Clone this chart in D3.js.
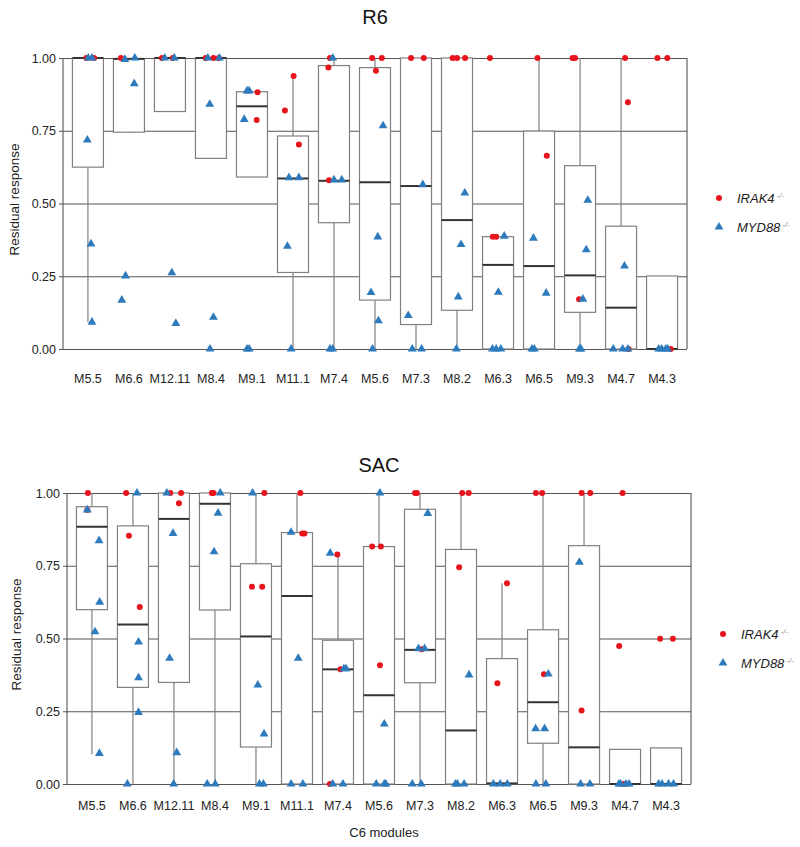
<!DOCTYPE html>
<html>
<head>
<meta charset="utf-8">
<script src="https://cdn.jsdelivr.net/npm/d3@7"></script>
<style>
  body { margin: 0; background: #fff; }
  svg { font-family: "Liberation Sans", Arial, sans-serif; }
</style>
</head>
<body>
<svg id="chart" width="800" height="847"></svg>
<script>
// ---------------- DATA ----------------
const categories = ["M5.5","M6.6","M12.11","M8.4","M9.1","M11.1","M7.4","M5.6","M7.3","M8.2","M6.3","M6.5","M9.3","M4.7","M4.3"];
const yTicks = [0, 0.25, 0.5, 0.75, 1.0];
const seriesNames = ["IRAK4", "MYD88"];

// box stats per category: [lower whisker, q1, median, q3, upper whisker]
const r6Boxes = [
  [0.092,0.625,1.0,1.0,1.0],
  [0.745,0.745,0.997,0.997,0.997],
  [0.816,0.816,1.0,1.0,1.0],
  [0.655,0.655,1.0,1.0,1.0],
  [0.591,0.591,0.834,0.884,0.884],
  [0.0,0.263,0.586,0.732,0.938],
  [0.0,0.434,0.578,0.974,1.0],
  [0.0,0.168,0.573,0.967,1.0],
  [0.0,0.084,0.560,1.0,1.0],
  [0.0,0.133,0.443,1.0,1.0],
  [0.0,0.0,0.289,0.386,0.386],
  [0.0,0.0,0.285,0.749,1.0],
  [0.0,0.126,0.253,0.630,1.0],
  [0.0,0.0,0.142,0.422,1.0],
  [0.0,0.0,0.0,0.251,0.251]
];
// points per category: [value, jitter (fraction of box width)]
const r6Irak4 = [
  [[1.0,-0.05],[1.0,0.20]],
  [[1.0,-0.26]],
  [[1.0,-0.26],[1.0,0.09]],
  [[1.0,-0.17],[1.0,0.08],[1.0,0.25]],
  [[0.882,0.18],[0.787,0.15]],
  [[0.938,0.02],[0.820,-0.26],[0.703,0.19]],
  [[1.0,-0.13],[0.967,-0.18],[0.580,-0.16]],
  [[1.0,-0.09],[1.0,0.22],[0.956,0.03]],
  [[1.0,-0.16],[1.0,0.25]],
  [[1.0,-0.14],[1.0,0.0],[1.0,0.26]],
  [[1.0,-0.26],[0.386,-0.17],[0.386,-0.06]],
  [[1.0,-0.05],[0.664,0.25]],
  [[1.0,-0.24],[1.0,-0.16],[0.171,-0.03]],
  [[1.0,0.13],[0.848,0.22],[0.0,0.24]],
  [[1.0,-0.15],[1.0,0.17],[0.0,0.28]]
];
const r6Myd88 = [
  [[1.0,0.01],[1.0,0.13],[0.718,-0.02],[0.361,0.10],[0.092,0.13]],
  [[0.995,-0.13],[1.0,0.19],[0.912,0.17],[0.251,-0.11],[0.168,-0.23]],
  [[1.0,-0.17],[1.0,0.14],[0.262,0.06],[0.088,0.19]],
  [[1.0,-0.10],[1.0,0.27],[0.841,-0.04],[0.109,0.08],[0.0,-0.03]],
  [[0.887,-0.16],[0.887,-0.09],[0.789,-0.25],[0.0,-0.16],[0.0,-0.09]],
  [[0.589,-0.13],[0.589,0.19],[0.353,-0.18],[0.0,-0.06]],
  [[1.0,-0.04],[0.581,0.0],[0.581,0.25],[0.0,-0.13],[0.0,-0.04]],
  [[0.767,0.26],[0.385,0.09],[0.194,-0.13],[0.097,0.11],[0.0,-0.08]],
  [[0.565,0.22],[0.115,-0.25],[0.0,-0.12],[0.0,0.18]],
  [[0.536,0.25],[0.359,0.13],[0.179,0.04],[0.0,-0.02]],
  [[0.388,0.20],[0.195,0.01],[0.0,-0.18],[0.0,-0.06],[0.0,0.09]],
  [[0.381,-0.18],[0.192,0.23],[0.0,-0.23],[0.0,-0.15]],
  [[0.171,0.09],[0.511,0.25],[0.341,0.20],[0.0,-0.02],[0.0,0.03]],
  [[0.285,0.11],[0.0,-0.25],[0.0,0.05],[0.0,0.22]],
  [[0.0,-0.11],[0.0,-0.01],[0.0,0.12],[0.0,0.18]]
];

const sacBoxes = [
  [0.102,0.599,0.884,0.953,1.0],
  [0.0,0.332,0.548,0.887,1.0],
  [0.0,0.349,0.911,1.0,1.0],
  [0.0,0.598,0.963,1.0,1.0],
  [0.0,0.127,0.507,0.757,1.0],
  [0.0,0.0,0.646,0.864,1.0],
  [0.0,0.0,0.394,0.494,0.789],
  [0.0,0.0,0.305,0.816,1.0],
  [0.0,0.348,0.461,0.944,1.0],
  [0.0,0.0,0.184,0.806,1.0],
  [0.0,0.0,0.002,0.431,0.690],
  [0.0,0.140,0.281,0.530,1.0],
  [0.0,0.0,0.126,0.819,1.0],
  [0.0,0.0,0.0,0.119,0.119],
  [0.0,0.0,0.0,0.124,0.124]
];
const sacIrak4 = [
  [[1.0,-0.13],[0.942,-0.15]],
  [[1.0,-0.22],[0.853,-0.13],[0.608,0.22]],
  [[1.0,-0.12],[1.0,0.23],[0.965,0.16]],
  [[1.0,-0.10],[1.0,-0.05]],
  [[1.0,0.27],[0.678,-0.13],[0.678,0.20]],
  [[1.0,0.11],[0.861,0.17],[0.861,0.24]],
  [[0.789,-0.02],[0.394,0.08],[0.0,-0.26]],
  [[0.816,-0.22],[0.816,0.06],[0.408,0.03]],
  [[1.0,-0.16],[1.0,-0.10],[0.463,0.05]],
  [[1.0,0.04],[1.0,0.25],[0.745,-0.06]],
  [[0.690,0.16],[0.346,-0.15]],
  [[1.0,-0.23],[1.0,-0.03],[0.377,0.03]],
  [[1.0,-0.08],[1.0,0.20],[0.253,-0.08]],
  [[1.0,-0.08],[0.474,-0.19],[0.0,-0.03]],
  [[0.499,-0.19],[0.499,0.22]]
];
const sacMyd88 = [
  [[0.942,-0.15],[0.836,0.23],[0.625,0.25],[0.523,0.10],[0.105,0.24]],
  [[1.0,0.13],[0.488,0.18],[0.365,0.18],[0.246,0.18],[0.0,-0.18]],
  [[1.0,-0.23],[0.861,-0.03],[0.432,-0.14],[0.108,0.09],[0.0,-0.01]],
  [[1.0,0.17],[0.931,0.10],[0.798,-0.03],[0.0,-0.25],[0.0,0.01]],
  [[1.0,-0.11],[0.340,0.06],[0.172,0.26],[0.0,0.11],[0.0,0.24]],
  [[0.865,-0.19],[0.432,0.04],[0.0,-0.19],[0.0,0.19]],
  [[0.793,-0.25],[0.396,0.19],[0.396,0.26],[0.0,-0.17],[0.0,0.16]],
  [[1.0,0.03],[0.206,0.17],[0.0,-0.09],[0.0,0.17],[0.0,0.22]],
  [[0.930,0.25],[0.465,-0.05],[0.465,0.15],[0.0,-0.25],[0.0,0.04]],
  [[0.375,0.26],[0.0,-0.18],[0.0,-0.12],[0.0,0.10]],
  [[0.0,-0.28],[0.0,-0.06],[0.0,0.17]],
  [[0.378,0.17],[0.190,-0.24],[0.190,0.05],[0.0,-0.23],[0.0,0.09]],
  [[0.762,-0.15],[0.0,-0.11],[0.0,0.19]],
  [[0.0,-0.20],[0.0,-0.14],[0.0,0.03],[0.0,0.13]],
  [[0.0,-0.24],[0.0,-0.13],[0.0,0.08],[0.0,0.24]]
];

// ---------------- DRAWING ----------------
const svg = d3.select("#chart");
const RED = "#e8141c", BLUE = "#2d7bbd";
const GRID = "#555", BOX = "#808080";

function drawPanel(opt) {
  const { title, left, right, top, bottom, boxes, irak4, myd88, titleY, labelY, legendX, legendY, yTitleX, showXTitle } = opt;
  const x = d3.scaleBand().domain(categories).range([left, right]).paddingInner(0.244).paddingOuter(0.23);
  const y = d3.scaleLinear().domain([0, 1]).range([bottom, top]);
  const g = svg.append("g");
  const bw = x.bandwidth();

  // title
  g.append("text").attr("x", (left + right) / 2).attr("y", titleY)
    .attr("text-anchor", "middle").attr("font-size", 20).attr("fill", "#111").text(title);

  // gridlines + tick labels via axis
  const axis = d3.axisLeft(y).tickValues(yTicks).tickFormat(d3.format(".2f"))
    .tickSize(-(right - left) - 4).tickPadding(3);
  const ag = g.append("g").attr("transform", `translate(${left - 4},0)`).call(axis);
  ag.select(".domain").remove();
  ag.selectAll(".tick line").attr("stroke", GRID).attr("stroke-width", 1.1);
  ag.selectAll(".tick text").attr("font-size", 12.5).attr("fill", "#222")
    .attr("font-family", "Liberation Sans, Arial, sans-serif");

  // frame verticals
  g.append("line").attr("x1", left).attr("x2", left).attr("y1", y(1)).attr("y2", y(0))
    .attr("stroke", GRID).attr("stroke-width", 1.1);
  g.append("line").attr("x1", right).attr("x2", right).attr("y1", y(1)).attr("y2", y(0))
    .attr("stroke", GRID).attr("stroke-width", 1.1);

  // whiskers
  const bg = g.append("g");
  bg.selectAll("line.wh").data(boxes).join("line")
    .attr("x1", (d, i) => x(categories[i]) + bw / 2)
    .attr("x2", (d, i) => x(categories[i]) + bw / 2)
    .attr("y1", d => y(d[0])).attr("y2", d => y(d[4]))
    .attr("stroke", BOX).attr("stroke-width", 1.2);
  // boxes
  bg.selectAll("rect").data(boxes).join("rect")
    .attr("x", (d, i) => x(categories[i]))
    .attr("width", bw)
    .attr("y", d => y(d[3]))
    .attr("height", d => Math.max(0, y(d[1]) - y(d[3])))
    .attr("fill", "#fff").attr("stroke", BOX).attr("stroke-width", 1.2);
  // medians
  bg.selectAll("line.med").data(boxes).join("line")
    .attr("x1", (d, i) => x(categories[i]))
    .attr("x2", (d, i) => x(categories[i]) + bw)
    .attr("y1", d => y(d[2])).attr("y2", d => y(d[2]))
    .attr("stroke", "#333").attr("stroke-width", 2);

  // points
  const tri = d3.symbol().type(d3.symbolTriangle).size(34);
  const pts = g.append("g");
  irak4.forEach((arr, i) => {
    pts.selectAll(null).data(arr).join("circle")
      .attr("cx", d => x(categories[i]) + bw / 2 + d[1] * bw)
      .attr("cy", d => y(d[0]))
      .attr("r", 3).attr("fill", RED);
  });
  myd88.forEach((arr, i) => {
    pts.selectAll(null).data(arr).join("path")
      .attr("d", tri)
      .attr("transform", d => `translate(${x(categories[i]) + bw / 2 + d[1] * bw},${y(d[0])})`)
      .attr("fill", BLUE);
  });

  // x labels
  g.selectAll("text.xl").data(categories).join("text")
    .attr("x", d => x(d) + bw / 2).attr("y", labelY)
    .attr("text-anchor", "middle").attr("font-size", 12.5).attr("fill", "#222").text(d => d);

  // y title
  g.append("text").attr("transform", `translate(${yTitleX},${(top + bottom) / 2 - 4}) rotate(-90)`)
    .attr("text-anchor", "middle").attr("font-size", 13.5).attr("fill", "#222").text("Residual response");

  if (showXTitle) {
    g.append("text").attr("x", (left + right) / 2 + 5).attr("y", 837)
      .attr("text-anchor", "middle").attr("font-size", 13).attr("fill", "#222").text("C6 modules");
  }

  // legend
  const lg = g.append("g");
  seriesNames.forEach((name, k) => {
    const ly = legendY + k * 29;
    if (k === 0) lg.append("circle").attr("cx", legendX).attr("cy", ly).attr("r", 3).attr("fill", RED);
    else lg.append("path").attr("d", tri).attr("transform", `translate(${legendX},${ly})`).attr("fill", BLUE);
    const t = lg.append("text").attr("x", legendX + 18).attr("y", ly + 5)
      .attr("font-size", 13).attr("font-style", "italic").attr("fill", "#222");
    t.append("tspan").text(name);
    t.append("tspan").attr("dx", 2).attr("dy", -5).attr("font-size", 8).attr("fill", "#888").text("-/-");
  });
}

drawPanel({ title: "R6", left: 63, right: 687, top: 58, bottom: 349, boxes: r6Boxes, irak4: r6Irak4, myd88: r6Myd88,
  titleY: 24, labelY: 383, legendX: 719, legendY: 198, yTitleX: 19, showXTitle: false });
drawPanel({ title: "SAC", left: 67, right: 691, top: 493, bottom: 784, boxes: sacBoxes, irak4: sacIrak4, myd88: sacMyd88,
  titleY: 472, labelY: 810, legendX: 723, legendY: 634, yTitleX: 21, showXTitle: true });
</script>
</body>
</html>
